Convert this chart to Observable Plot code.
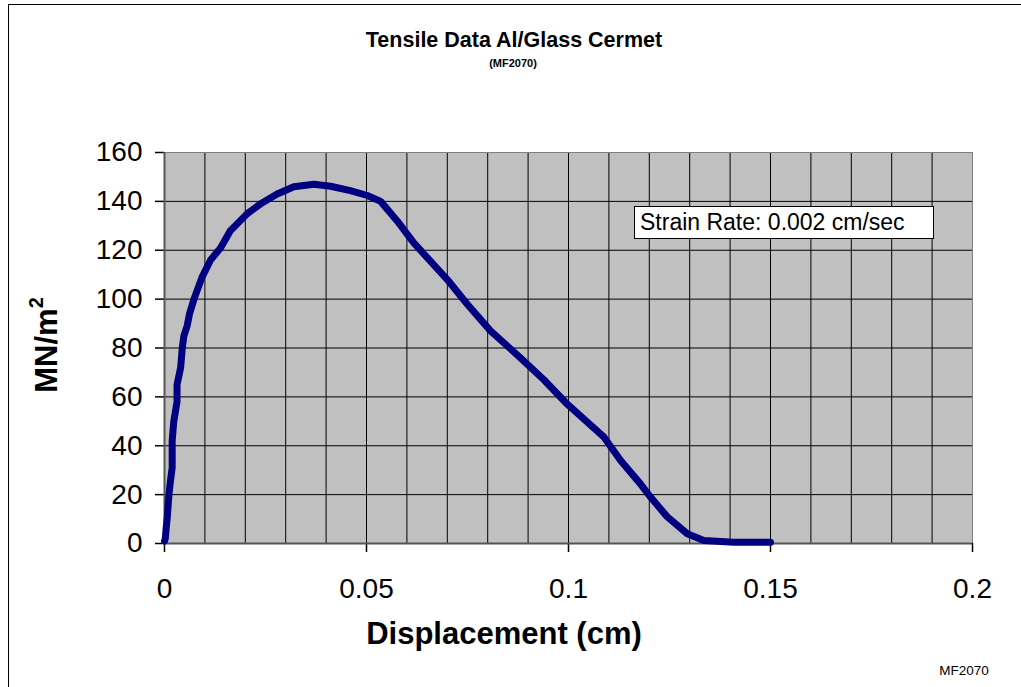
<!DOCTYPE html>
<html>
<head>
<meta charset="utf-8">
<script src="https://cdn.jsdelivr.net/npm/d3@7"></script>
<script src="https://cdn.jsdelivr.net/npm/@observablehq/plot@0.6"></script>
<style>
  html, body { margin: 0; padding: 0; background: #fff; }
  #wrap { position: relative; width: 1021px; height: 687px; font-family: "Liberation Sans", Arial, sans-serif; overflow: hidden; }
  #border { position: absolute; left: 8px; top: 4px; width: 1030px; height: 700px; border-left: 1.5px solid #000; border-top: 1.5px solid #000; }
  .ov { position: absolute; white-space: nowrap; color: #000; line-height: 1; }
  #title { left: 514px; top: 41px; transform: translate(-50%, -50%); font-weight: bold; font-size: 21.5px; }
  #sub { left: 513px; top: 63px; transform: translate(-50%, -50%); font-weight: bold; font-size: 11px; }
  #ylab { left: 46px; top: 345px; transform: translate(-50%, -50%) rotate(-90deg); font-weight: bold; font-size: 31px; }
  #ylab sup { font-size: 20px; vertical-align: 0; position: relative; top: -14px; }
  #xlab { left: 504px; top: 633px; transform: translate(-50%, -50%); font-weight: bold; font-size: 31px; }
  #cap { left: 964px; top: 671px; transform: translate(-50%, -50%); font-size: 13.5px; }
  #legend { left: 634px; top: 206px; width: 300px; height: 33px; background: #fff; border: 1.5px solid #000; font-size: 23px; line-height: 30px; padding-left: 5px; box-sizing: border-box; }
</style>
</head>
<body>
<div id="wrap">
  <div id="chart"></div>
  <div id="border"></div>
  <div class="ov" id="title">Tensile Data Al/Glass Cermet</div>
  <div class="ov" id="sub">(MF2070)</div>
  <div class="ov" id="ylab">MN/m<sup>2</sup></div>
  <div class="ov" id="xlab">Displacement (cm)</div>
  <div class="ov" id="cap">MF2070</div>
  <div class="ov" id="legend">Strain Rate: 0.002 cm/sec</div>
</div>
<script>
// Displacement (cm)
const displacement = [0, 0.0002, 0.0004, 0.0007, 0.0011, 0.0015, 0.0019, 0.0019, 0.0023, 0.0031, 0.0031, 0.0040, 0.0044, 0.0048, 0.0056, 0.0062, 0.0073, 0.0093, 0.0114, 0.0139, 0.0163, 0.0205, 0.0238, 0.0279, 0.0320, 0.0370, 0.0411, 0.0460, 0.0502, 0.0535, 0.0576, 0.0617, 0.0700, 0.0749, 0.0807, 0.0881, 0.0939, 0.0997, 0.1088, 0.1129, 0.1178, 0.1203, 0.1244, 0.1294, 0.1335, 0.1409, 0.1500];
// Stress (MN/m^2)
const stress = [1, 2, 6, 11, 20, 26, 31, 42, 50, 58, 65, 72, 80, 85, 89, 94, 100, 109, 116, 121, 128, 135, 139, 143, 146, 147, 146.2, 144.4, 142.4, 140, 132, 123, 108, 98, 87, 76, 67, 57, 43.5, 34, 24.4, 19, 11, 4, 1.2, 0.5, 0.5];
const xTicks = [0, 0.05, 0.1, 0.15, 0.2];
const yTicks = [0, 20, 40, 60, 80, 100, 120, 140, 160];
const xGrid = [0.01, 0.02, 0.03, 0.04, 0.05, 0.06, 0.07, 0.08, 0.09, 0.1, 0.11, 0.12, 0.13, 0.14, 0.15, 0.16, 0.17, 0.18, 0.19];

const data = displacement.map((x, i) => ({x, y: stress[i]}));

const chart = Plot.plot({
  width: 1021,
  height: 687,
  marginLeft: 164,
  marginRight: 49,
  marginTop: 152,
  marginBottom: 144,
  style: {fontFamily: "'Liberation Sans', Arial, sans-serif", background: "transparent"},
  x: {domain: [0, 0.2]},
  y: {domain: [0, 160]},
  marks: [
    Plot.frame({fill: "#c0c0c0", stroke: "#808080"}),
    Plot.ruleX(xGrid, {stroke: "#000", strokeWidth: 1, strokeOpacity: 1}),
    Plot.ruleY(yTicks.slice(1, -1), {stroke: "#000", strokeWidth: 1, strokeOpacity: 1}),
    Plot.ruleY([160], {stroke: "#808080", strokeWidth: 1}),
    Plot.axisX({ticks: xTicks, tickFormat: d => String(d), tickSize: 9, tickPadding: 26, fontSize: 28, label: null, stroke: "#000", strokeWidth: 1.5, color: "#000"}),
    Plot.axisY({ticks: yTicks, tickFormat: d => String(d), tickSize: 9, tickPadding: 13, fontSize: 28, label: null, stroke: "#000", strokeWidth: 1.5, color: "#000"}),
    Plot.ruleX([0], {stroke: "#555", strokeWidth: 2}),
    Plot.ruleY([0], {stroke: "#555", strokeWidth: 2}),
    Plot.line(data, {x: "x", y: "y", stroke: "#000080", strokeWidth: 7, strokeLinejoin: "round", strokeLinecap: "round"})
  ]
});
document.getElementById("chart").appendChild(chart);
</script>
</body>
</html>
